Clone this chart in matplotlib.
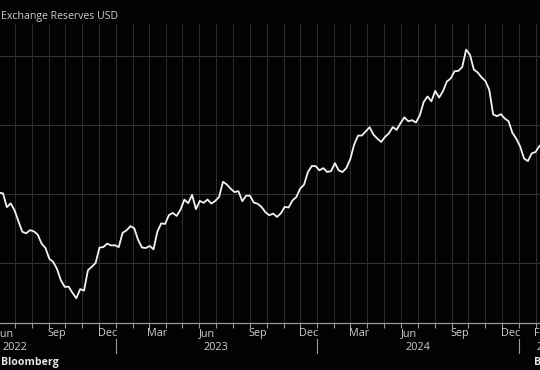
import pandas as pd
import numpy as np
import matplotlib
matplotlib.use('Agg')
import matplotlib.pyplot as plt
import matplotlib.transforms as mtransforms

# weekly fx reserves, bn USD (fridays)
reserves_2022 = [601.1, 600.6, 590.6, 593.3, 588.3, 580.3, 572.7, 571.6, 573.9, 573.0,
                 570.7, 564.1, 561.0, 553.1, 550.9, 545.7, 537.5, 532.7, 532.9, 528.4,
                 524.5, 531.1, 530.0, 544.7, 547.3, 550.1, 561.2, 561.6, 564.1, 562.8,
                 562.9]
reserves_2023 = [561.6, 572.0, 573.7, 576.8, 575.3, 566.9, 561.3, 560.9, 562.4, 560.0,
                 572.8, 578.8, 578.4, 584.8, 586.4, 584.2, 588.8, 596.0, 593.5, 599.5,
                 589.1, 595.1, 593.7, 596.1, 593.2, 595.1, 598.0, 609.0, 607.0, 603.9,
                 601.5, 602.2, 594.9, 598.9, 598.9, 593.9, 593.0, 590.7, 586.9, 584.7,
                 585.9, 583.5, 586.1, 590.8, 590.3, 595.4, 597.9, 604.0, 606.9, 616.0,
                 620.4, 620.4]
reserves_2024 = [617.3, 618.9, 616.1, 616.7, 622.5, 617.2, 616.1, 619.1, 625.6, 636.1,
                 642.5, 642.6, 645.6, 648.6, 643.2, 640.3, 637.9, 641.6, 644.2, 648.7,
                 646.7, 651.5, 655.8, 652.9, 653.7, 652.0, 657.2, 666.9, 670.9, 667.4,
                 675.0, 670.1, 674.7, 681.7, 684.0, 689.2, 689.5, 692.3, 704.9, 701.2,
                 690.4, 688.3, 684.8, 682.1, 675.7, 657.9, 656.6, 658.1, 654.9, 652.9,
                 644.4, 640.3]
reserves_2025 = [634.6, 625.9, 624.0, 629.6, 630.6, 635.0]

values = reserves_2022 + reserves_2023 + reserves_2024 + reserves_2025
dates = pd.date_range('2022-06-03', periods=len(values), freq='7D')

month_labels = ['Jun', 'Sep', 'Dec', 'Mar', 'Jun', 'Sep', 'Dec', 'Mar', 'Jun', 'Sep', 'Dec', 'Feb']
month_pos = ['2022-06-15', '2022-09-15', '2022-12-16', '2023-03-16', '2023-06-15', '2023-09-15',
             '2023-12-16', '2024-03-16', '2024-06-15', '2024-09-15', '2024-12-16', '2025-02-14']
year_labels = ['2022', '2023', '2024', '2025']
year_pos = ['2022-07-02', '2023-07-02', '2024-07-02', '2025-02-24']
grid_levels = [550, 600, 650, 700]

W, H = 540, 370
bg = '#030303'
txt = '#cfcfcf'

fig = plt.figure(figsize=(W / 100, H / 100), dpi=100, facecolor=bg)
ax = fig.add_axes([0, 1 - 323 / H, 1, (323 - 24) / H])
ax.set_facecolor(bg)

# grid
for lv in grid_levels:
    ax.axhline(lv, color='#363636', lw=0.7, zorder=1)
months = pd.date_range('2022-06-01', '2025-02-01', freq='MS')
for m in months:
    ax.axvline(m, color='#2e2e2e', lw=0.7, zorder=1)

ax.plot(dates, values, color='#f2f2f2', lw=1.3, zorder=3, solid_joinstyle='round')

for s in ['top', 'left', 'right']:
    ax.spines[s].set_visible(False)
ax.spines['bottom'].set_color('#9a9a9a')
ax.spines['bottom'].set_linewidth(0.9)
ax.set_yticks([])
ax.set_xticks(months)
ax.set_xticklabels([])
ax.tick_params(axis='x', length=3.5, width=0.8, color='#9a9a9a', direction='out')

# limits last, set_xticks would widen them
ax.set_xlim(pd.Timestamp('2022-06-04 14:00'), pd.Timestamp('2025-02-08'))
ax.set_ylim(506.5, 723.5)

blend = mtransforms.blended_transform_factory(ax.transData, fig.transFigure)
font = ['Open Sans', 'DejaVu Sans']

for lab, p in zip(month_labels, month_pos):
    ax.text(pd.Timestamp(p), 1 - 336 / H, lab, transform=blend, ha='center', va='baseline',
            fontsize=7.8, color=txt, family=font, clip_on=False)
for lab, p in zip(year_labels, year_pos):
    ax.text(pd.Timestamp(p), 1 - 350 / H, lab, transform=blend, ha='center', va='baseline',
            fontsize=7.8, color=txt, family=font, clip_on=False)

# year separators
for y in ['2023-01-01', '2024-01-01', '2025-01-01']:
    ax.plot([pd.Timestamp(y)] * 2, [1 - 339 / H, 1 - 353 / H], transform=blend,
            color='#9a9a9a', lw=0.8, clip_on=False)

fig.text(1 / W, 1 - 18.5 / H, 'Exchange Reserves USD', ha='left', va='baseline',
         fontsize=7.6, color=txt, family=font)
fig.text(1 / W, 1 - 365 / H, 'Bloomberg', ha='left', va='baseline',
         fontsize=7.6, color='#e6e6e6', family=font, weight='bold')
fig.text(534 / W, 1 - 365 / H, 'Bloomberg', ha='left', va='baseline',
         fontsize=7.6, color='#e6e6e6', family=font, weight='bold')

plt.savefig('out.png', dpi=100, facecolor=bg)
